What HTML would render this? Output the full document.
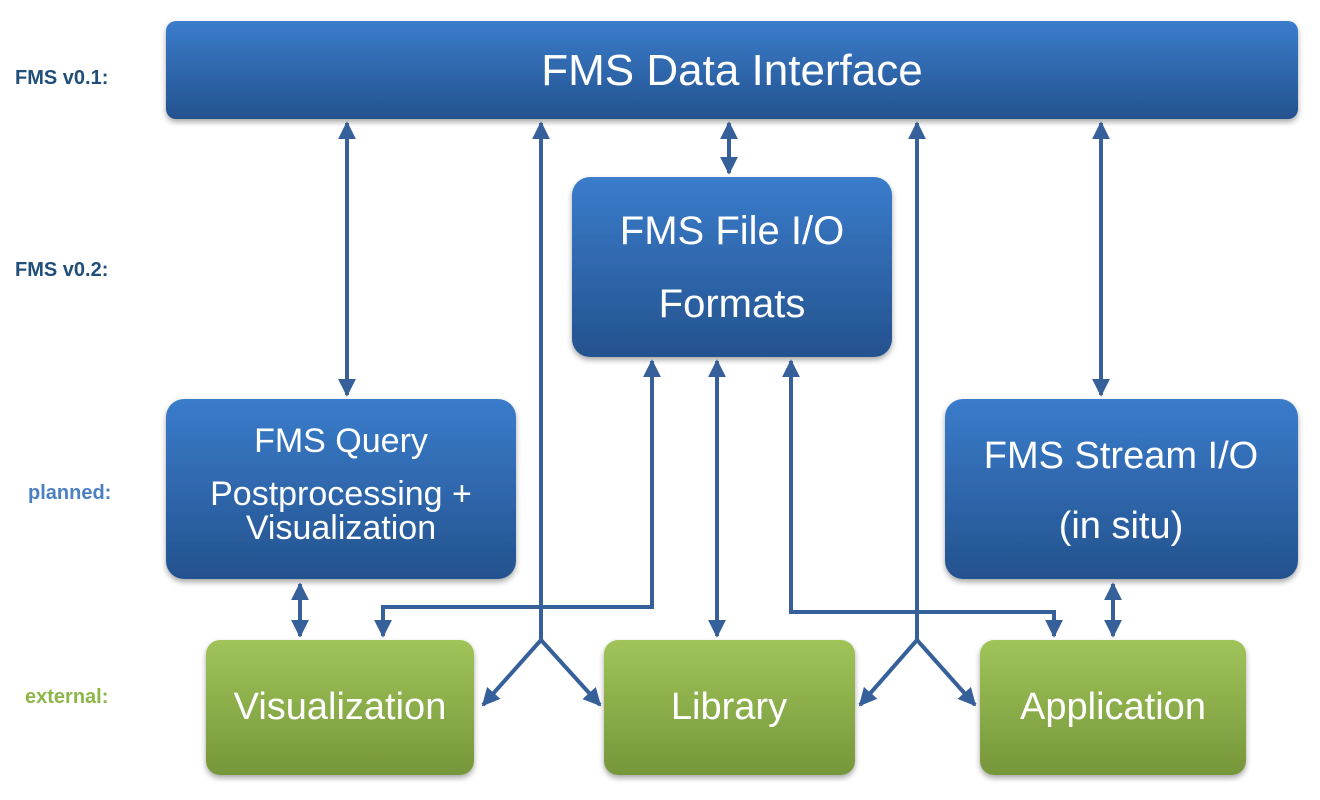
<!DOCTYPE html>
<html><head><meta charset="utf-8"><style>
html,body{margin:0;padding:0;background:#fff;}
svg{display:block;font-family:"Liberation Sans",sans-serif;}
</style></head><body>
<svg width="1320" height="800" viewBox="0 0 1320 800" xmlns="http://www.w3.org/2000/svg">
<defs>
<linearGradient id="b" x1="0" y1="0" x2="0" y2="1"><stop offset="0" stop-color="#3a7ccb"/><stop offset="1" stop-color="#24528e"/></linearGradient>
<linearGradient id="g" x1="0" y1="0" x2="0" y2="1"><stop offset="0" stop-color="#a0c45a"/><stop offset="1" stop-color="#76963a"/></linearGradient>
<filter id="s" x="-5%" y="-5%" width="110%" height="120%"><feDropShadow dx="0" dy="3" stdDeviation="3" flood-color="#000" flood-opacity="0.35"/></filter>
<marker id="a" viewBox="0 0 10 10" refX="9" refY="5" markerWidth="4.5" markerHeight="4.5" orient="auto-start-reverse" markerUnits="strokeWidth"><path d="M0,0 L10,5 L0,10 z" fill="#36609a"/></marker>
</defs>
<g font-weight="bold" font-size="20">
<text x="15" y="84" fill="#1f4e79">FMS v0.1:</text>
<text x="15" y="276" fill="#1f4e79">FMS v0.2:</text>
<text x="28" y="499" fill="#4a7fc1">planned:</text>
<text x="25" y="703" fill="#8db548">external:</text>
</g>
<g filter="url(#s)">
<rect x="166" y="21" width="1132" height="98" rx="10" fill="url(#b)"/>
<rect x="572" y="177" width="320" height="180" rx="18" fill="url(#b)"/>
<rect x="166" y="399" width="350" height="180" rx="18" fill="url(#b)"/>
<rect x="945" y="399" width="353" height="180" rx="18" fill="url(#b)"/>
<rect x="206" y="640" width="268" height="135" rx="14" fill="url(#g)"/>
<rect x="604" y="640" width="251" height="135" rx="14" fill="url(#g)"/>
<rect x="980" y="640" width="266" height="135" rx="14" fill="url(#g)"/>
</g>
<g fill="#fff" text-anchor="middle">
<text x="732" y="85" font-size="44">FMS Data Interface</text>
<text x="732" y="244" font-size="40">FMS File I/O</text>
<text x="732" y="317" font-size="40">Formats</text>
<text x="341" y="452" font-size="34">FMS Query</text>
<text x="341" y="505" font-size="34">Postprocessing +</text>
<text x="341" y="539" font-size="34">Visualization</text>
<text x="1121" y="468" font-size="38">FMS Stream I/O</text>
<text x="1121" y="538" font-size="38">(in situ)</text>
<text x="340" y="719" font-size="38">Visualization</text>
<text x="729" y="719" font-size="38">Library</text>
<text x="1113" y="719" font-size="38">Application</text>
</g>
<g stroke="#36609a" stroke-width="4" fill="none">
<line x1="347" y1="123" x2="347" y2="395" marker-start="url(#a)" marker-end="url(#a)"/>
<line x1="729" y1="123" x2="729" y2="173" marker-start="url(#a)" marker-end="url(#a)"/>
<line x1="1101" y1="123" x2="1101" y2="395" marker-start="url(#a)" marker-end="url(#a)"/>
<line x1="541" y1="640" x2="541" y2="123" marker-end="url(#a)"/>
<line x1="541" y1="640" x2="483" y2="705" marker-end="url(#a)"/>
<line x1="541" y1="640" x2="600" y2="705" marker-end="url(#a)"/>
<line x1="917" y1="640" x2="917" y2="123" marker-end="url(#a)"/>
<line x1="917" y1="640" x2="860" y2="705" marker-end="url(#a)"/>
<line x1="917" y1="640" x2="975" y2="705" marker-end="url(#a)"/>
<line x1="300" y1="584" x2="300" y2="636" marker-start="url(#a)" marker-end="url(#a)"/>
<line x1="1113" y1="584" x2="1113" y2="636" marker-start="url(#a)" marker-end="url(#a)"/>
<line x1="717" y1="361" x2="717" y2="636" marker-start="url(#a)" marker-end="url(#a)"/>
<polyline points="652,361 652,607 383,607 383,636" marker-start="url(#a)" marker-end="url(#a)"/>
<polyline points="791,361 791,612 1054,612 1054,636" marker-start="url(#a)" marker-end="url(#a)"/>
</g>
</svg>
</body></html>
